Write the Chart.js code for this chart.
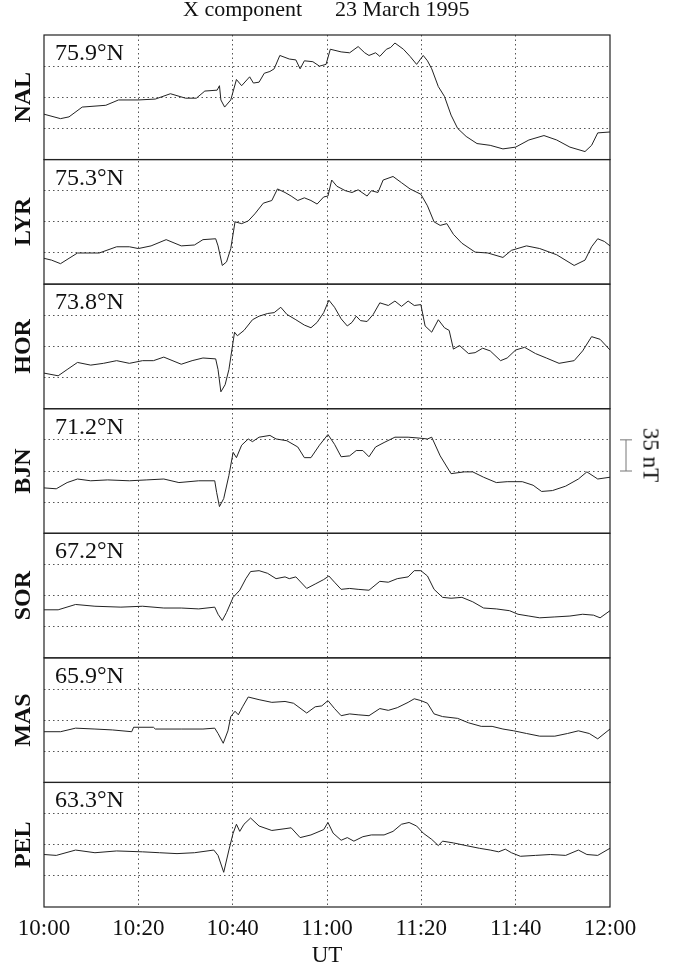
<!DOCTYPE html>
<html>
<head>
<meta charset="utf-8">
<title>X component 23 March 1995</title>
<script src="https://cdn.jsdelivr.net/npm/chart.js@4.4.1/dist/chart.umd.min.js"></script>
<style>
  html, body { margin: 0; padding: 0; background: #fff; }
  #wrap { position: relative; width: 677px; height: 967px; font-family: "Liberation Serif", "Times New Roman", serif; color: #111; }
  #wrap canvas { position: absolute; left: 0; top: 0; }
  .txt { position: absolute; white-space: nowrap; line-height: 1; }
  .lat { font-size: 24px; }
  .head { font-size: 22px; top: -2px; }
  #scaleLbl { font-size: 23px; left: 651px; top: 455px; transform: translate(-50%, -50%) rotate(90deg); }
</style>
</head>
<body>
<div id="wrap">
  <canvas id="chart" width="677" height="967"></canvas>
  <div class="txt head" style="left:183px">X component</div>
  <div class="txt head" style="left:335px">23 March 1995</div>
  <div class="txt" id="scaleLbl">35 nT</div>
</div>
<script>
// minutes after 10:00 UT, X in nT above each panel's bottom edge
const stations = ["NAL", "LYR", "HOR", "BJN", "SOR", "MAS", "PEL"];
const latitudes = ["75.9°N", "75.3°N", "73.8°N", "71.2°N", "67.2°N", "65.9°N", "63.3°N"];
const timeLabels = ["10:00", "10:20", "10:40", "11:00", "11:20", "11:40", "12:00"];

const nalTime = [0,3.5,5.3,8.1,13.1,15.8,20,23.6,26.8,30,32.3,34.1,36.7,37.2,37.5,38.3,39.6,40.8,41.9,43.6,44.4,45.6,46.7,47.9,48.8,50,52,53.4,54.3,55.2,57,58.4,59.8,60.7,63,64.8,66.6,68,68.9,70.3,71.2,72.6,73.5,74.4,76.2,77.6,79,80.4,81.3,82.2,83.6,84.9,86.3,87.7,89.5,91.8,94.6,97.3,100,102.8,106,108.7,111.5,114.7,116.1,117.4,120];
const nalX = [51,46,48,59,61,67,67,68,74,69,69,77,78,83,67,59,67,90,83,93,86,87,97,99,102,117,113,112,102,111,110,105,107,124,121,120,127,120,117,120,116,124,126,131,124,116,107,117,111,102,82,71,50,35,26,18,16,12,14,22,27,22,14,9,16,30,31];

const lyrTime = [0,1.6,3.5,5.3,7.1,11.7,15.4,18.1,20,22.7,25.9,29.1,31.9,33.7,36.4,36.9,37.8,38.7,39.6,40.5,41.9,43.3,44.7,46.5,48.3,49.5,51.1,52.4,53.8,55.2,56.6,57.9,59.3,60.2,61,62.1,63.9,65.3,66.6,68.5,69.4,70.8,71.9,74,75.8,77.6,79.9,81.3,82.7,84,85.4,86.8,88.6,91.4,94.1,97.3,99.1,102.3,105.1,108.7,112.4,114.7,116.1,117.4,118.8,120];
const lyrX = [29,27,23,29,35,35,42,42,40,43,50,43,44,50,51,43,21,25,40,70,68,71,79,91,94,107,103,99,94,97,94,90,98,99,117,110,105,103,106,99,105,103,117,121,114,107,101,88,70,66,68,56,46,36,35,30,38,43,40,33,21,27,42,51,48,43];

const horTime = [0,3,4.9,7.1,9.9,12.6,15.4,18.1,20.9,23.2,25.4,29.1,31.4,33.7,36.4,36.9,37.5,38.4,39.2,40.4,41,42.4,44.2,45.6,47.4,48.8,50.2,51.5,53.4,55.2,56.6,57.9,59.3,60.4,61.6,63,64.3,65.3,66.2,67.1,68.5,69.8,71.2,73,74.4,75.8,77.2,78.5,79.9,80.8,82.2,83.6,84.9,85.9,86.8,88.1,90,91.4,93,94.6,96.8,98.2,100,101.9,104.2,106.5,109.2,112.4,114.2,116.1,117.9,120];
const horX = [40,37,44,52,49,51,54,51,54,54,58,50,54,57,56,44,19,27,44,86,82,88,100,104,107,108,114,106,100,94,91,97,108,122,114,101,93,97,104,99,98,106,119,116,121,115,121,116,117,93,86,100,91,88,67,71,62,63,68,65,54,57,66,69,62,57,51,54,65,81,78,66];

const bjnTime = [0,2.6,4.9,7.1,9.9,13.5,18.1,21.8,25.4,28.6,32.8,36.2,36.6,37.2,38.1,39.2,40.1,40.8,41.9,43.3,44.2,45.6,47.9,49.2,51.5,53.8,55.2,56.6,58.4,60.2,61.6,63,64.8,66.2,67.6,68.9,70.3,72.1,74.4,77.2,79.5,81.3,82.2,84,86.3,89.1,90.9,93.2,95.9,98.2,101.4,103.7,105.5,107.8,110.6,113.3,115.1,117.4,120];
const bjnX = [51,50,57,61,59,60,59,60,61,57,59,59,46,30,39,65,91,85,99,106,103,108,110,106,104,97,85,85,99,111,100,86,87,93,93,86,97,102,108,108,107,106,108,87,67,69,69,63,57,58,58,54,47,48,53,61,69,61,63];

const sorTime = [0,3,6.7,10.8,16.3,20.9,25.4,29.1,32.8,36.2,36.9,37.8,38.7,40.1,41.5,42.8,43.8,45.6,47.4,49.2,51.1,52,53.4,55.7,57.5,59.3,60.4,61.6,63,64.8,66.6,68.9,71.2,73,74.9,77.2,78.5,79.9,81.3,82.7,84.5,86.3,88.6,90.9,93.2,95.9,98.7,100.5,102.8,105.1,108.3,111.5,114.2,116.5,117.9,120];
const sorX = [54,54,60,58,57,58,56,56,55,57,49,42,51,68,76,89,97,98,95,89,91,89,91,78,83,88,92,85,77,78,77,76,86,85,89,91,98,98,92,77,68,67,68,63,56,55,53,49,47,45,46,47,49,48,45,53];

const masTime = [0,3.5,6.7,10.8,14.5,18.6,19,23.2,23.6,29.1,33.7,36.2,36.9,38,39,39.6,40.5,41.2,42.1,43.3,45.6,48.3,51.1,52.9,55.7,57.5,58.9,60.2,61.6,63,64.8,66.6,68.9,71.2,73,74.9,77.2,78.5,79.9,81.3,82.7,84.5,87.7,90,92.7,95,97.3,99.6,102.3,105.1,108.3,111,113.3,115.6,117.4,120];
const masX = [57,57,61,60,59,57,62,62,60,60,60,61,55,44,58,74,80,76,85,96,93,90,91,89,78,85,86,92,83,75,77,76,75,83,81,84,90,94,92,89,77,74,72,67,63,63,60,58,55,52,52,55,58,55,49,60];

const pelTime = [0,2.6,6.7,10.8,15.4,20.9,24.5,28.2,31.9,36,36.9,38.1,39.2,40.1,40.8,41.5,42.4,43.8,45.6,48.3,51.1,52.4,54.3,56.6,59.3,60.2,61.3,63,64.3,65.7,67.6,69.4,72.1,74,75.8,77.4,79,80.4,82.2,83.6,84.5,86.8,89.5,92.3,94.6,96.4,97.8,99.1,101,104.2,107.4,110.6,113.3,115.1,117.4,120];
const pelX = [59,58,64,61,63,62,61,60,61,64,58,39,64,83,93,85,93,100,91,86,88,89,78,81,87,95,83,75,78,74,79,81,81,85,93,95,91,83,76,69,74,72,69,66,64,62,65,61,57,58,59,58,64,59,58,66];

const series = [
  [nalTime, nalX], [lyrTime, lyrX], [horTime, horX], [bjnTime, bjnX],
  [sorTime, sorX], [masTime, masX], [pelTime, pelX]
];

const FONT = '"Liberation Serif", "Times New Roman", serif';
const DOT = '#555';
const NONE = 'rgba(0,0,0,0)';

// solid frame round every panel + the 35 nT bar next to BJN
const panelFrame = {
  id: 'panelFrame',
  beforeDatasetsDraw(chart) {
    const { ctx, chartArea } = chart;
    ctx.save();
    ctx.strokeStyle = '#222';
    ctx.lineWidth = 1.2;
    stations.forEach((s, i) => {
      const sc = chart.scales['y' + i];
      ctx.strokeRect(chartArea.left, sc.top, chartArea.right - chartArea.left, sc.bottom - sc.top);
    });
    const bj = chart.scales.y3;
    const y1 = bj.getPixelForValue(105);
    const y2 = bj.getPixelForValue(70);
    const bx = chartArea.right + 16;
    ctx.strokeStyle = '#777';
    ctx.lineWidth = 1;
    ctx.beginPath();
    ctx.moveTo(bx, y1); ctx.lineTo(bx, y2);
    ctx.moveTo(bx - 6, y1); ctx.lineTo(bx + 6, y1);
    ctx.moveTo(bx - 6, y2); ctx.lineTo(bx + 6, y2);
    ctx.stroke();
    ctx.restore();
  }
};

const scales = {
  x: {
    type: 'linear',
    min: 0,
    max: 120,
    ticks: {
      stepSize: 20,
      padding: 8,
      color: '#111',
      autoSkip: false,
      maxRotation: 0,
      font: { family: FONT, size: 23 },
      callback: (v) => timeLabels[Math.round(v / 20)]
    },
    grid: {
      drawTicks: false,
      lineWidth: 1,
      color: (c) => (c.tick && (c.tick.value === 0 || c.tick.value === 120)) ? NONE : DOT
    },
    border: { display: false, dash: [1.5, 3] },
    title: {
      display: true,
      text: 'UT',
      color: '#111',
      font: { family: FONT, size: 23, lineHeight: 1 },
      padding: { top: 0, bottom: 0 }
    },
    afterFit: (s) => { s.height = 60; }
  }
};

// stacked y axes, defined bottom panel first so NAL ends up on top
for (let i = stations.length - 1; i >= 0; i--) {
  scales['y' + i] = {
    type: 'linear',
    position: 'left',
    stack: 'panels',
    stackWeight: 1,
    min: 0,
    max: 140,
    ticks: { display: false, stepSize: 35 },
    grid: {
      drawTicks: false,
      lineWidth: 1,
      color: (c) => (c.tick && (c.tick.value === 0 || c.tick.value === 140)) ? NONE : DOT
    },
    border: { display: false, dash: [1.5, 3] },
    title: {
      display: true,
      text: stations[i],
      color: '#111',
      font: { family: FONT, size: 24, weight: 'bold' },
      padding: { top: 9, bottom: 0 }
    },
    afterFit: (s) => { s.width = 44; }
  };
}

const chart = new Chart(document.getElementById('chart').getContext('2d'), {
  type: 'line',
  data: {
    datasets: stations.map((s, i) => ({
      label: s,
      yAxisID: 'y' + i,
      data: series[i][0].map((t, k) => ({ x: t, y: series[i][1][k] })),
      borderColor: '#222',
      borderWidth: 1,
      pointRadius: 0,
      tension: 0,
      fill: false
    }))
  },
  options: {
    responsive: false,
    animation: false,
    devicePixelRatio: 1,
    layout: { padding: { top: 35, right: 67, left: 0, bottom: 0 } },
    scales: scales,
    plugins: {
      legend: { display: false },
      tooltip: { enabled: false }
    }
  },
  plugins: [panelFrame]
});

// latitude labels in the top-left corner of each panel
const wrap = document.getElementById('wrap');
stations.forEach((s, i) => {
  const sc = chart.scales['y' + i];
  const d = document.createElement('div');
  d.className = 'txt lat';
  d.textContent = latitudes[i];
  d.style.left = (chart.chartArea.left + 11) + 'px';
  d.style.top = (sc.top + 5) + 'px';
  wrap.appendChild(d);
});
</script>
</body>
</html>
